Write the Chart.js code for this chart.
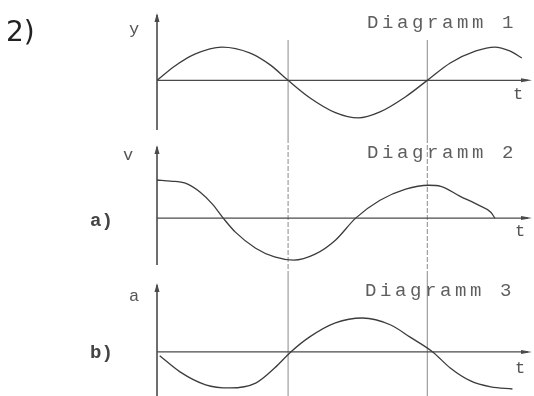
<!DOCTYPE html>
<html lang="de">
<head>
    <meta charset="UTF-8">
    <title>Diagramm 1-3</title>
    <script src="https://cdn.jsdelivr.net/npm/chart.js"></script>
    <style>
        body {
            margin: 0;
            background: #fff;
        }
        #wrap {
            position: relative;
            width: 534px;
            height: 396px;
            overflow: hidden;
        }
        .panel {
            position: absolute;
            left: 0;
            width: 534px;
        }
        .lbl {
            position: absolute;
            line-height: 1;
            white-space: nowrap;
            font-family: "Liberation Mono", "DejaVu Sans Mono", monospace;
            color: #555;
        }
        .title {
            font-size: 19px;
            letter-spacing: 3.6px;
            color: #5e5e5e;
        }
        .num {
            font-family: "DejaVu Sans", sans-serif;
            font-size: 28px;
            color: #222;
        }
        .part {
            font-size: 19px;
            font-weight: bold;
            color: #444;
        }
    </style>
</head>
<body>
<div id="wrap">
    <canvas id="c1" class="panel" style="top:0;height:138px" width="534" height="138"></canvas>
    <canvas id="c2" class="panel" style="top:138px;height:138px" width="534" height="138"></canvas>
    <canvas id="c3" class="panel" style="top:276px;height:120px" width="534" height="120"></canvas>

    <div class="lbl num" style="left:6px;top:18px">2)</div>
    <div class="lbl title" style="left:367px;top:14px">Diagramm 1</div>
    <div class="lbl title" style="left:367px;top:144px">Diagramm 2</div>
    <div class="lbl title" style="left:365px;top:282px">Diagramm 3</div>
    <div class="lbl" style="left:129px;top:21px;font-size:17px">y</div>
    <div class="lbl" style="left:123px;top:147px;font-size:17px">v</div>
    <div class="lbl" style="left:129px;top:288px;font-size:17px">a</div>
    <div class="lbl part" style="left:90px;top:212px">a)</div>
    <div class="lbl part" style="left:90px;top:344px">b)</div>
    <div class="lbl" style="left:513px;top:86px;font-size:17px">t</div>
    <div class="lbl" style="left:515px;top:223px;font-size:17px">t</div>
    <div class="lbl" style="left:515px;top:360px;font-size:17px">t</div>
</div>
<script>
    // time axis runs 0 .. tMax, vertical guides where y crosses zero
    const tMax = 2.76;
    const guideT = [0.97, 2.0];

    // Diagramm 1: y(t)
    const tY = [0, 0.13, 0.28, 0.48, 0.69, 0.84, 0.97, 1.13, 1.32, 1.49, 1.65, 1.84, 2.0, 2.17, 2.36, 2.5, 2.61, 2.7];
    const yVals = [0, 0.4, 0.74, 0.94, 0.77, 0.43, 0, -0.49, -0.91, -1.06, -0.89, -0.46, 0, 0.49, 0.83, 0.94, 0.83, 0.63];

    // Diagramm 2: v(t)
    const tV = [0, 0.1, 0.21, 0.32, 0.41, 0.49, 0.58, 0.73, 0.87, 1.01, 1.17, 1.32, 1.47, 1.65, 1.84, 2.01, 2.1, 2.24, 2.38, 2.47, 2.5];
    const vVals = [1.09, 1.06, 1.0, 0.74, 0.4, 0, -0.4, -0.86, -1.11, -1.2, -1.03, -0.63, 0, 0.51, 0.83, 0.94, 0.91, 0.63, 0.37, 0.17, 0];

    // Diagramm 3: a(t)
    const tA = [0.02, 0.17, 0.36, 0.54, 0.73, 0.87, 0.99, 1.13, 1.32, 1.52, 1.73, 1.87, 2.04, 2.17, 2.32, 2.47, 2.63];
    const aVals = [-0.11, -0.57, -0.94, -1.03, -0.89, -0.46, 0, 0.43, 0.83, 0.97, 0.77, 0.43, 0, -0.46, -0.83, -1.0, -1.06];

    function pts(ts, vs) {
        return ts.map((t, i) => ({ x: t, y: vs[i] }));
    }

    // draws the axes with arrows and the guide lines
    const axesPlugin = {
        id: 'axes',
        beforeDatasetsDraw(chart, args, opts) {
            const ctx = chart.ctx;
            const xs = chart.scales.x, ys = chart.scales.y;
            const x0 = xs.getPixelForValue(0);
            const y0 = ys.getPixelForValue(0);
            const area = chart.chartArea;
            ctx.save();

            // guides
            ctx.strokeStyle = '#8a8a8a';
            ctx.lineWidth = 1;
            ctx.setLineDash(opts.dash || []);
            guideT.forEach(t => {
                const gx = xs.getPixelForValue(t);
                ctx.beginPath();
                ctx.moveTo(gx, opts.guideTop != null ? opts.guideTop : 0);
                ctx.lineTo(gx, chart.height);
                ctx.stroke();
            });
            ctx.setLineDash([]);

            ctx.strokeStyle = '#4a4a4a';
            ctx.fillStyle = '#4a4a4a';
            ctx.lineWidth = 1.6;
            // vertical axis
            ctx.beginPath();
            ctx.moveTo(x0, area.top + 2);
            ctx.lineTo(x0, area.bottom);
            ctx.stroke();
            ctx.beginPath();
            ctx.moveTo(x0, area.top);
            ctx.lineTo(x0 - 2.5, area.top + 9);
            ctx.lineTo(x0 + 2.5, area.top + 9);
            ctx.closePath();
            ctx.fill();
            // time axis
            ctx.lineWidth = 1.3;
            ctx.beginPath();
            ctx.moveTo(x0, y0);
            ctx.lineTo(area.right - 2, y0);
            ctx.stroke();
            ctx.beginPath();
            ctx.moveTo(area.right + 2, y0);
            ctx.lineTo(area.right - 9, y0 - 2);
            ctx.lineTo(area.right - 9, y0 + 2);
            ctx.closePath();
            ctx.fill();
            ctx.restore();
        }
    };

    function makeChart(id, data, yMin, yMax, pad, guideOpts) {
        return new Chart(document.getElementById(id), {
            type: 'line',
            data: {
                datasets: [{
                    data: data,
                    borderColor: '#3c3c3c',
                    borderWidth: 1.3,
                    pointRadius: 0,
                    cubicInterpolationMode: 'monotone',
                    fill: false
                }]
            },
            options: {
                responsive: false,
                animation: false,
                layout: { padding: pad },
                scales: {
                    x: { type: 'linear', min: 0, max: tMax, display: false },
                    y: { min: yMin, max: yMax, display: false }
                },
                plugins: {
                    legend: { display: false },
                    tooltip: { enabled: false },
                    axes: guideOpts
                }
            },
            plugins: [axesPlugin]
        });
    }

    makeChart('c1', pts(tY, yVals), -1.4, 1.9, { left: 157, right: 4, top: 13, bottom: 8 }, { guideTop: 40, dash: [] });
    makeChart('c2', pts(tV, vVals), -1.34, 2.09, { left: 157, right: 4, top: 7, bottom: 11 }, { dash: [5, 2] });
    makeChart('c3', pts(tA, aVals), -1.26, 1.97, { left: 157, right: 4, top: 7, bottom: 0 }, { dash: [] });
</script>
</body>
</html>
